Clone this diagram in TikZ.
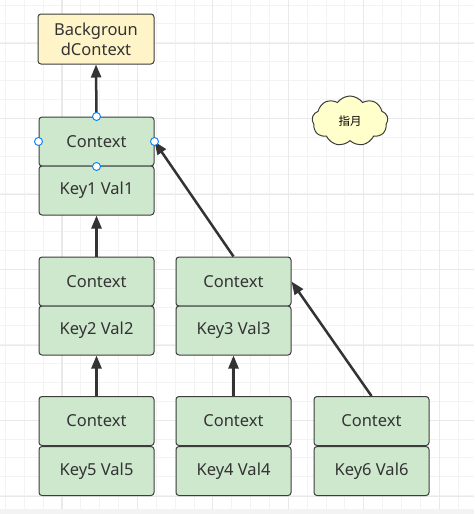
\documentclass[tikz,border=0pt]{standalone}
\usepackage{fontspec}
\setmainfont{Noto Sans}
\newfontfamily\cjk{Noto Sans CJK SC}
\usepackage{tikz}
\usetikzlibrary{positioning}
\usetikzlibrary{arrows.meta}
\usetikzlibrary{shapes.symbols}

\definecolor{boxgreen}{RGB}{206,232,206}
\definecolor{boxyellow}{RGB}{255,244,200}
\definecolor{cloudyellow}{RGB}{255,255,204}
\definecolor{boxline}{RGB}{60,60,60}
\definecolor{txtgray}{RGB}{51,51,51}
\definecolor{handleblue}{RGB}{0,127,255}
\definecolor{gridminor}{RGB}{243,243,243}
\definecolor{gridmajor}{RGB}{233,233,233}

\begin{document}
\begin{tikzpicture}[x=1pt,y=-1pt]
        \tikzstyle{ctx} = [draw=boxline, fill=boxgreen, rounded corners=3pt, line width=1pt, minimum width=115pt, minimum height=49pt, inner sep=0pt, text=txtgray, font=\fontsize{16.5}{20}\selectfont]
        \tikzstyle{root} = [ctx, fill=boxyellow, minimum width=116pt, minimum height=50pt, align=center]
        \tikzstyle{note} = [draw=boxline, fill=cloudyellow, cloud, cloud puffs=9, cloud puff arc=110, aspect=1.5, minimum width=76pt, minimum height=50pt, line width=1pt, inner sep=0pt, font=\cjk\fontsize{11.5}{13}\selectfont]
        \tikzstyle{arr} = [draw=txtgray, line width=2.5pt, -{Triangle[length=13pt, width=10pt]}]
        \tikzstyle{handle} = [draw=handleblue, fill=white, line width=0.9pt]

        \useasboundingbox (0,0) rectangle (474,514);

        % Rejilla de fondo
        \foreach \k in {0,...,24}
            \draw[gridminor, line width=1pt] ({5.3+18.87*\k},0) -- ({5.3+18.87*\k},509);
        \foreach \k in {0,...,26}
            \draw[gridminor, line width=1pt] (0,{5.1+18.87*\k}) -- (474,{5.1+18.87*\k});
        \foreach \k in {0,...,5}
            \draw[gridmajor, line width=1.2pt] ({61.9+75.48*\k},0) -- ({61.9+75.48*\k},509);
        \foreach \k in {0,...,6}
            \draw[gridmajor, line width=1.2pt] (0,{43.3+75.48*\k}) -- (474,{43.3+75.48*\k});
        \fill[gridminor] (0,509) rectangle (474,514);

        % Contexto raiz
        \node[root](bg) at (96,39) {Backgroun\\dContext};

        % Nivel 1
        \node[ctx](ctx1) at (96.5,141.5) {Context};
        \node[ctx](kv1) at (96.5,190.5) {Key1 Val1};

        % Nivel 2
        \node[ctx](ctx2) at (96.5,281.5) {Context};
        \node[ctx](kv2) at (96.5,330.5) {Key2 Val2};
        \node[ctx](ctx3) at (233.5,281.5) {Context};
        \node[ctx](kv3) at (233.5,330.5) {Key3 Val3};

        % Nivel 3
        \node[ctx](ctx5) at (96.5,421) {Context};
        \node[ctx](kv5) at (96.5,471) {Key5 Val5};
        \node[ctx](ctx4) at (233.5,421) {Context};
        \node[ctx](kv4) at (233.5,471) {Key4 Val4};
        \node[ctx](ctx6) at (371.5,421) {Context};
        \node[ctx](kv6) at (371.5,471) {Key6 Val6};

        % Nota
        \node[note](moon) at (350,121) {指月};

        % Enlaces hacia el padre
        \draw[arr] (ctx1.north) -- (bg.south);
        \draw[arr] (ctx2.north) -- (kv1.south);
        \draw[arr] (ctx3.north) -- (ctx1.east);
        \draw[arr] (ctx5.north) -- (kv2.south);
        \draw[arr] (ctx4.north) -- (kv3.south);
        \draw[arr] (ctx6.north) -- (ctx3.east);

        % Puntos de seleccion
        \foreach \a in {north,west,east,south}
            \draw[handle] (ctx1.\a) circle (4pt);
\end{tikzpicture}
\end{document}
